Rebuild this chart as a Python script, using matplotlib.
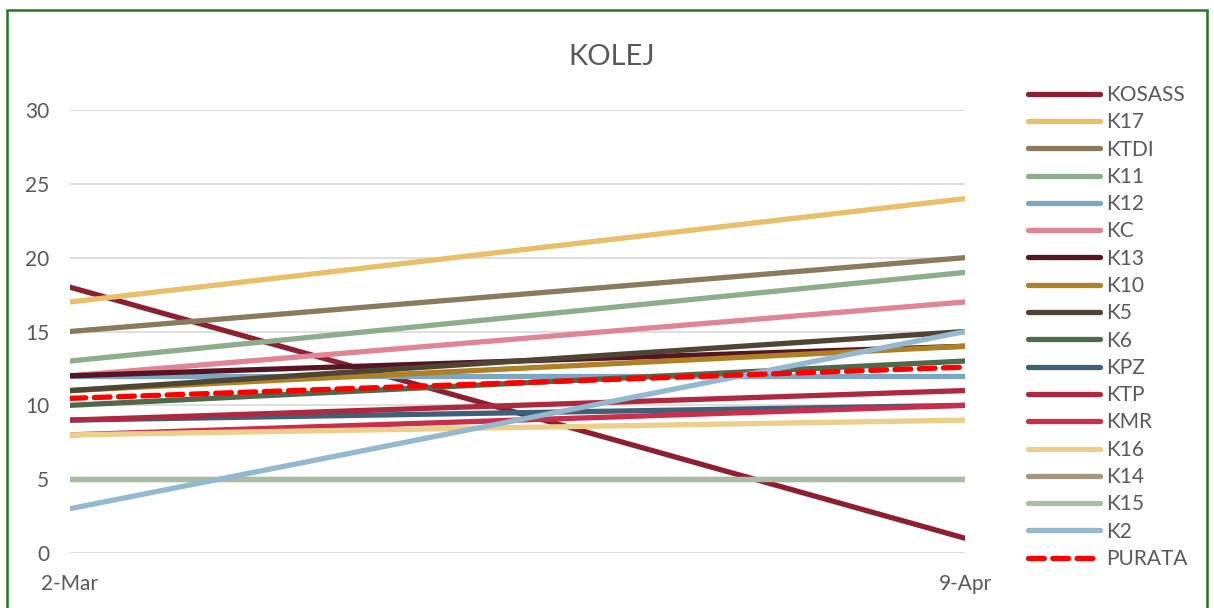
import matplotlib
matplotlib.use("Agg")
import matplotlib.pyplot as plt
from matplotlib.patches import Rectangle

plt.rcParams['font.family'] = ['Lato', 'DejaVu Sans']

dates = ["2-Mar", "9-Apr"]
series_names = ["KOSASS", "K17", "KTDI", "K11", "K12", "KC", "K13", "K10", "K5",
                "K6", "KPZ", "KTP", "KMR", "K16", "K14", "K15", "K2"]
start_vals = [18, 17, 15, 13, 12, 12, 12, 11, 11, 10, 9, 9, 8, 8, 5, 5, 3]
end_vals = [1, 24, 20, 19, 12, 17, 14, 14, 15, 13, 10, 11, 10, 9, 5, 5, 15]
colors = ["#8E1F33", "#E8C06A", "#8B7B5E", "#8DAE8C", "#7BA7C2", "#E08595",
          "#551522", "#AE8124", "#4F4535", "#4D6B4A", "#3F6077", "#AE2840",
          "#C92E4A", "#EDCE8A", "#A69880", "#A7BDA4", "#93B8CF"]
avg_name = "PURATA"
avg_vals = [sum(start_vals) / len(start_vals), sum(end_vals) / len(end_vals)]
yticks = [0, 5, 10, 15, 20, 25, 30]

fig = plt.figure(figsize=(12.14, 6.08), dpi=100)
ax = fig.add_axes([70 / 1214, 1 - 553 / 608, (965 - 70) / 1214, (553 - 110) / 608])

xs = [0, 1]
for name, s, e, c in zip(series_names, start_vals, end_vals, colors):
    ax.plot(xs, [s, e], color=c, lw=3.8, solid_capstyle='round', label=name)
ax.plot(xs, avg_vals, color='#FF0000', lw=3.8, ls=(0, (3.0, 1.6)),
        dash_capstyle='round', label=avg_name)

ax.set_xlim(0, 1)
ax.set_ylim(0, 30)
ax.set_yticks(yticks)
ax.set_xticks(xs)
ax.set_xticklabels(dates)
ax.grid(axis='y', color='#D9D9D9', lw=1.2)
ax.set_axisbelow(True)
for sp in ax.spines.values():
    sp.set_visible(False)
ax.tick_params(axis='both', length=0, labelsize=15, colors='#595959')
ax.tick_params(axis='y', pad=15)
ax.tick_params(axis='x', pad=15)

fig.text(612 / 1214, 1 - 57 / 608, "KOLEJ", ha='center', va='center',
         fontsize=21, color='#595959')

leg = ax.legend(loc='upper left', bbox_to_anchor=(1028 / 1214, 1 - 85 / 608),
                bbox_transform=fig.transFigure, frameon=False, fontsize=15,
                handlelength=3.46, handletextpad=0.29, labelspacing=0.35,
                borderaxespad=0, borderpad=0)
for t in leg.get_texts():
    t.set_color('#595959')

fig.patches.append(Rectangle((7 / 1214, -0.05), (1207 - 7) / 1214, 1 - 10 / 608 + 0.05,
                             transform=fig.transFigure, fill=False,
                             edgecolor='#217821', lw=1.8, zorder=10))

fig.savefig("out.png", dpi=100)
